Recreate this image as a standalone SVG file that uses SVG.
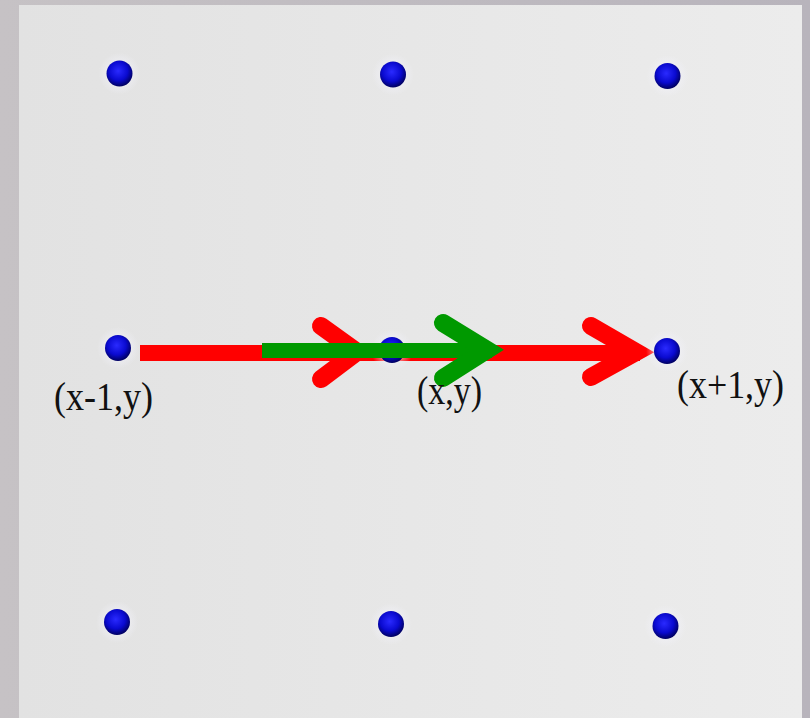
<svg xmlns="http://www.w3.org/2000/svg" width="810" height="718" viewBox="0 0 810 718">
  <defs>
    <linearGradient id="outer" x1="0" y1="0" x2="1" y2="0">
      <stop offset="0" stop-color="#c6c2c5"/>
      <stop offset="1" stop-color="#b8b4bc"/>
    </linearGradient>
    <linearGradient id="panel" x1="0" y1="0" x2="1" y2="0">
      <stop offset="0" stop-color="#e2e2e2"/>
      <stop offset="1" stop-color="#ececec"/>
    </linearGradient>
    <radialGradient id="ball" cx="0.45" cy="0.4" r="0.6">
      <stop offset="0" stop-color="#2a2aff"/>
      <stop offset="0.6" stop-color="#0a0ad0"/>
      <stop offset="1" stop-color="#000060"/>
    </radialGradient>
    <radialGradient id="halo" cx="0.5" cy="0.5" r="0.5">
      <stop offset="0.5" stop-color="#f2f2fa" stop-opacity="0.6"/>
      <stop offset="1" stop-color="#f2f2fa" stop-opacity="0"/>
    </radialGradient>
  </defs>
  <style>
    .halo { fill: url(#halo); }
    .dot { fill: url(#ball); }
    .red { stroke: #ff0000; fill: none; stroke-width: 16; }
    .green { stroke: #009900; fill: none; stroke-width: 15; }
    .head { stroke-linecap: round; stroke-linejoin: miter; stroke-width: 18; }
    .lbl { font-family: "Liberation Serif", "Times New Roman", serif; font-size: 39px; fill: #111111; }
  </style>
  <rect x="0" y="0" width="810" height="718" fill="url(#outer)"/>
  <rect x="19" y="5" width="783" height="713" fill="url(#panel)"/>

  <g id="connectors">
    <line class="red" x1="140" y1="353" x2="640" y2="353"/>
    <polyline class="red head" points="321,326 357,352 321,379"/>
    <polyline class="red head" points="591,326 636,352 591,377"/>
  </g>

  <g id="node-tl"><circle class="halo" cx="119.5" cy="73.5" r="21"/><circle class="dot" cx="119.5" cy="73.5" r="13"/></g>
  <g id="node-tc"><circle class="halo" cx="393" cy="74.5" r="21"/><circle class="dot" cx="393" cy="74.5" r="13"/></g>
  <g id="node-tr"><circle class="halo" cx="667.5" cy="76" r="21"/><circle class="dot" cx="667.5" cy="76" r="13"/></g>
  <g id="node-ml"><circle class="halo" cx="118" cy="348" r="21"/><circle class="dot" cx="118" cy="348" r="13"/></g>
  <g id="node-mc"><circle class="halo" cx="392" cy="350" r="21"/><circle class="dot" cx="392" cy="350" r="13"/></g>
  <g id="node-mr"><circle class="halo" cx="667" cy="351" r="21"/><circle class="dot" cx="667" cy="351" r="13"/></g>
  <g id="node-bl"><circle class="halo" cx="117" cy="622" r="21"/><circle class="dot" cx="117" cy="622" r="13"/></g>
  <g id="node-bc"><circle class="halo" cx="391" cy="624" r="21"/><circle class="dot" cx="391" cy="624" r="13"/></g>
  <g id="node-br"><circle class="halo" cx="665.5" cy="626" r="21"/><circle class="dot" cx="665.5" cy="626" r="13"/></g>

  <g id="connector-green">
    <line class="green" x1="262" y1="350.5" x2="492" y2="350.5"/>
    <polyline class="green head" points="443,323 487,350 443,378"/>
  </g>

  <g id="labels">
    <text class="lbl" x="54" y="410" textLength="99" lengthAdjust="spacingAndGlyphs">(x-1,y)</text>
    <text class="lbl" x="417" y="404" textLength="65" lengthAdjust="spacingAndGlyphs">(x,y)</text>
    <text class="lbl" x="677" y="398" textLength="107" lengthAdjust="spacingAndGlyphs">(x+1,y)</text>
  </g>
</svg>
